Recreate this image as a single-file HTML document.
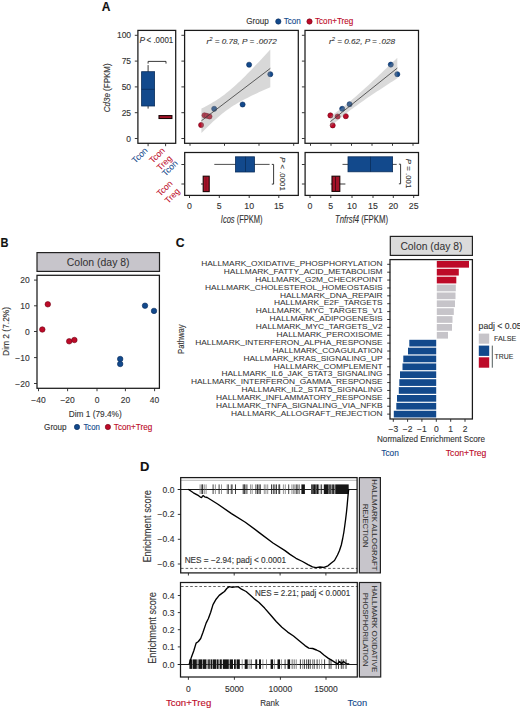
<!DOCTYPE html>
<html><head><meta charset="utf-8"><style>
html,body{margin:0;padding:0;background:#fff;}
svg{display:block;}
text{font-family:"Liberation Sans", sans-serif;stroke:currentColor;stroke-width:0.12px;}
</style></head><body>
<svg width="520" height="710" viewBox="0 0 520 710">
<rect x="0" y="0" width="520" height="710" fill="#fff"/>
<text x="101.80" y="10.70" font-size="12" fill="#111" color="#111" font-weight="bold">A</text>
<text x="246.30" y="24.30" font-size="8.3" fill="#333" color="#333" textLength="22.50" lengthAdjust="spacingAndGlyphs">Group</text>
<circle cx="278.30" cy="21.50" r="2.65" fill="#12498c" stroke="#0a2c5c" stroke-width="0.6"/>
<text x="283.80" y="24.30" font-size="8.3" fill="#12498c" color="#12498c" textLength="17.00" lengthAdjust="spacingAndGlyphs">Tcon</text>
<circle cx="309.50" cy="21.50" r="2.65" fill="#bd0a28" stroke="#700416" stroke-width="0.6"/>
<text x="315.00" y="24.30" font-size="8.3" fill="#bd0a28" color="#bd0a28" textLength="38.30" lengthAdjust="spacingAndGlyphs">Tcon+Treg</text>
<text x="110.40" y="87.80" font-size="8.9" fill="#333" color="#333" text-anchor="middle" transform="rotate(-90 110.40 87.80)" textLength="49" lengthAdjust="spacingAndGlyphs"><tspan font-style="italic">Cd3e</tspan> (FPKM)</text>
<text x="131.10" y="141.50" font-size="8.5" fill="#333" color="#333" text-anchor="end">0</text>
<line x1="134.80" y1="138.50" x2="137.60" y2="138.50" stroke="#222" stroke-width="0.9"/>
<line x1="181.40" y1="138.50" x2="184.30" y2="138.50" stroke="#222" stroke-width="0.9"/>
<line x1="301.90" y1="138.50" x2="304.70" y2="138.50" stroke="#222" stroke-width="0.9"/>
<text x="131.10" y="115.70" font-size="8.5" fill="#333" color="#333" text-anchor="end">25</text>
<line x1="134.80" y1="112.70" x2="137.60" y2="112.70" stroke="#222" stroke-width="0.9"/>
<line x1="181.40" y1="112.70" x2="184.30" y2="112.70" stroke="#222" stroke-width="0.9"/>
<line x1="301.90" y1="112.70" x2="304.70" y2="112.70" stroke="#222" stroke-width="0.9"/>
<text x="131.10" y="89.90" font-size="8.5" fill="#333" color="#333" text-anchor="end">50</text>
<line x1="134.80" y1="86.90" x2="137.60" y2="86.90" stroke="#222" stroke-width="0.9"/>
<line x1="181.40" y1="86.90" x2="184.30" y2="86.90" stroke="#222" stroke-width="0.9"/>
<line x1="301.90" y1="86.90" x2="304.70" y2="86.90" stroke="#222" stroke-width="0.9"/>
<text x="131.10" y="64.10" font-size="8.5" fill="#333" color="#333" text-anchor="end">75</text>
<line x1="134.80" y1="61.10" x2="137.60" y2="61.10" stroke="#222" stroke-width="0.9"/>
<line x1="181.40" y1="61.10" x2="184.30" y2="61.10" stroke="#222" stroke-width="0.9"/>
<line x1="301.90" y1="61.10" x2="304.70" y2="61.10" stroke="#222" stroke-width="0.9"/>
<text x="131.10" y="38.30" font-size="8.5" fill="#333" color="#333" text-anchor="end">100</text>
<line x1="134.80" y1="35.30" x2="137.60" y2="35.30" stroke="#222" stroke-width="0.9"/>
<line x1="181.40" y1="35.30" x2="184.30" y2="35.30" stroke="#222" stroke-width="0.9"/>
<line x1="301.90" y1="35.30" x2="304.70" y2="35.30" stroke="#222" stroke-width="0.9"/>
<rect x="137.90" y="30.40" width="37.80" height="112.90" fill="none" stroke="#1a1a1a" stroke-width="1.25"/>
<text x="139.60" y="42.60" font-size="8.4" fill="#333" color="#333" font-style="italic">P</text>
<text x="146.60" y="42.60" font-size="8.4" fill="#333" color="#333" textLength="26.60" lengthAdjust="spacingAndGlyphs">&lt; .0001</text>
<polyline points="148.10,63.60 148.10,61.40 166.00,61.40 166.00,63.60" fill="none" stroke="#222" stroke-width="0.9" stroke-linejoin="round"/>
<line x1="148.10" y1="65.10" x2="148.10" y2="108.60" stroke="#222" stroke-width="0.9"/>
<rect x="141.60" y="71.70" width="13.00" height="34.30" fill="#12498c" stroke="#0a2d5a" stroke-width="0.8"/>
<line x1="141.60" y1="89.30" x2="154.60" y2="89.30" stroke="#0a2d5a" stroke-width="0.8"/>
<rect x="159.00" y="115.60" width="12.90" height="2.90" fill="#a8132a" stroke="#1a0505" stroke-width="1.1"/>
<line x1="148.10" y1="143.30" x2="148.10" y2="146.20" stroke="#222" stroke-width="0.9"/>
<line x1="165.60" y1="143.30" x2="165.60" y2="146.20" stroke="#222" stroke-width="0.9"/>
<rect x="184.60" y="30.40" width="113.70" height="112.90" fill="none" stroke="#1a1a1a" stroke-width="1.25"/>
<line x1="190.00" y1="143.30" x2="190.00" y2="145.80" stroke="#222" stroke-width="0.9"/>
<line x1="224.50" y1="143.30" x2="224.50" y2="145.80" stroke="#222" stroke-width="0.9"/>
<line x1="259.00" y1="143.30" x2="259.00" y2="145.80" stroke="#222" stroke-width="0.9"/>
<line x1="293.70" y1="143.30" x2="293.70" y2="145.80" stroke="#222" stroke-width="0.9"/>
<circle cx="249.10" cy="64.70" r="2.55" fill="#12498c" stroke="#0a2c5c" stroke-width="0.6"/>
<circle cx="270.30" cy="74.20" r="2.55" fill="#12498c" stroke="#0a2c5c" stroke-width="0.6"/>
<circle cx="242.60" cy="104.50" r="2.55" fill="#12498c" stroke="#0a2c5c" stroke-width="0.6"/>
<circle cx="214.20" cy="108.80" r="2.55" fill="#12498c" stroke="#0a2c5c" stroke-width="0.6"/>
<circle cx="204.50" cy="115.30" r="2.55" fill="#bd0a28" stroke="#700416" stroke-width="0.6"/>
<circle cx="206.80" cy="115.80" r="2.55" fill="#bd0a28" stroke="#700416" stroke-width="0.6"/>
<circle cx="209.50" cy="116.50" r="2.55" fill="#bd0a28" stroke="#700416" stroke-width="0.6"/>
<circle cx="201.10" cy="125.00" r="2.55" fill="#bd0a28" stroke="#700416" stroke-width="0.6"/>
<polygon points="201.40,108.57 203.70,107.40 205.99,106.20 208.29,104.95 210.59,103.67 212.88,102.33 215.18,100.93 217.48,99.47 219.77,97.93 222.07,96.32 224.37,94.63 226.66,92.86 228.96,91.01 231.26,89.08 233.55,87.07 235.85,85.00 238.15,82.87 240.44,80.68 242.74,78.45 245.04,76.17 247.33,73.86 249.63,71.51 251.93,69.14 254.22,66.75 256.52,64.34 258.82,61.91 261.11,59.46 263.41,57.00 265.71,54.53 268.00,52.05 270.30,49.56 270.30,87.25 268.00,88.25 265.71,89.26 263.41,90.28 261.11,91.32 258.82,92.36 256.52,93.43 254.22,94.50 251.93,95.60 249.63,96.73 247.33,97.88 245.04,99.06 242.74,100.28 240.44,101.54 238.15,102.84 235.85,104.20 233.55,105.62 231.26,107.11 228.96,108.67 226.66,110.31 224.37,112.04 222.07,113.84 219.77,115.72 217.48,117.68 215.18,119.71 212.88,121.81 210.59,123.96 208.29,126.17 205.99,128.42 203.70,130.71 201.40,133.03" fill="#999999" stroke="none" stroke-width="1" fill-opacity="0.38"/>
<line x1="201.40" y1="120.80" x2="270.30" y2="68.40" stroke="#3a3a3a" stroke-width="0.8"/>
<text x="241.7" y="44.0" font-size="7.7" fill="#333" color="#333" text-anchor="middle" font-style="italic" textLength="70.4" lengthAdjust="spacingAndGlyphs">r<tspan font-size="5.5" dy="-3">2</tspan><tspan dy="3"> = 0.78, P = .0072</tspan></text>
<rect x="305.00" y="30.40" width="113.50" height="112.90" fill="none" stroke="#1a1a1a" stroke-width="1.25"/>
<line x1="310.50" y1="143.30" x2="310.50" y2="145.80" stroke="#222" stroke-width="0.9"/>
<line x1="331.00" y1="143.30" x2="331.00" y2="145.80" stroke="#222" stroke-width="0.9"/>
<line x1="351.50" y1="143.30" x2="351.50" y2="145.80" stroke="#222" stroke-width="0.9"/>
<line x1="372.00" y1="143.30" x2="372.00" y2="145.80" stroke="#222" stroke-width="0.9"/>
<line x1="392.50" y1="143.30" x2="392.50" y2="145.80" stroke="#222" stroke-width="0.9"/>
<line x1="413.00" y1="143.30" x2="413.00" y2="145.80" stroke="#222" stroke-width="0.9"/>
<circle cx="390.80" cy="64.60" r="2.55" fill="#12498c" stroke="#0a2c5c" stroke-width="0.6"/>
<circle cx="397.30" cy="74.20" r="2.55" fill="#12498c" stroke="#0a2c5c" stroke-width="0.6"/>
<circle cx="349.60" cy="104.20" r="2.55" fill="#12498c" stroke="#0a2c5c" stroke-width="0.6"/>
<circle cx="342.20" cy="108.80" r="2.55" fill="#12498c" stroke="#0a2c5c" stroke-width="0.6"/>
<circle cx="330.40" cy="115.40" r="2.55" fill="#bd0a28" stroke="#700416" stroke-width="0.6"/>
<circle cx="337.60" cy="116.50" r="2.55" fill="#bd0a28" stroke="#700416" stroke-width="0.6"/>
<circle cx="345.80" cy="116.20" r="2.55" fill="#bd0a28" stroke="#700416" stroke-width="0.6"/>
<circle cx="332.70" cy="125.40" r="2.55" fill="#bd0a28" stroke="#700416" stroke-width="0.6"/>
<polygon points="330.40,116.44 332.63,114.84 334.86,113.22 337.09,111.56 339.32,109.88 341.55,108.17 343.78,106.42 346.01,104.64 348.24,102.82 350.47,100.97 352.70,99.09 354.93,97.17 357.16,95.23 359.39,93.27 361.62,91.28 363.85,89.27 366.08,87.24 368.31,85.20 370.54,83.15 372.77,81.08 375.00,79.00 377.23,76.91 379.46,74.81 381.69,72.71 383.92,70.60 386.15,68.49 388.38,66.37 390.61,64.24 392.84,62.11 395.07,59.98 397.30,57.84 397.30,78.32 395.07,79.75 392.84,81.18 390.61,82.62 388.38,84.07 386.15,85.51 383.92,86.97 381.69,88.42 379.46,89.89 377.23,91.36 375.00,92.84 372.77,94.33 370.54,95.83 368.31,97.34 366.08,98.87 363.85,100.41 361.62,101.97 359.39,103.55 357.16,105.15 354.93,106.78 352.70,108.43 350.47,110.12 348.24,111.84 346.01,113.59 343.78,115.37 341.55,117.19 339.32,119.05 337.09,120.93 334.86,122.85 332.63,124.79 330.40,126.76" fill="#999999" stroke="none" stroke-width="1" fill-opacity="0.36"/>
<line x1="330.40" y1="121.60" x2="397.30" y2="68.08" stroke="#3a3a3a" stroke-width="0.8"/>
<text x="362.0" y="44.0" font-size="7.7" fill="#333" color="#333" text-anchor="middle" font-style="italic" textLength="66" lengthAdjust="spacingAndGlyphs">r<tspan font-size="5.5" dy="-3">2</tspan><tspan dy="3"> = 0.62, P = .028</tspan></text>
<text x="148.20" y="151.00" font-size="8.6" fill="#12498c" color="#12498c" text-anchor="end" transform="rotate(-45 148.20 151.00)" style="stroke-width:0.03px">Tcon</text>
<text x="165.50" y="151.00" font-size="8.6" fill="#bd0a28" color="#bd0a28" text-anchor="end" transform="rotate(-45 165.50 151.00)" style="stroke-width:0.03px">Tcon</text>
<text x="172.60" y="158.80" font-size="8.6" fill="#bd0a28" color="#bd0a28" text-anchor="end" transform="rotate(-45 172.60 158.80)" style="stroke-width:0.03px">Treg</text>
<rect x="184.70" y="152.50" width="113.60" height="42.90" fill="none" stroke="#1a1a1a" stroke-width="1.25"/>
<rect x="305.10" y="152.50" width="113.40" height="42.90" fill="none" stroke="#1a1a1a" stroke-width="1.25"/>
<line x1="181.40" y1="164.50" x2="184.30" y2="164.50" stroke="#222" stroke-width="0.9"/>
<line x1="301.90" y1="164.50" x2="304.80" y2="164.50" stroke="#222" stroke-width="0.9"/>
<line x1="181.40" y1="184.00" x2="184.30" y2="184.00" stroke="#222" stroke-width="0.9"/>
<line x1="301.90" y1="184.00" x2="304.80" y2="184.00" stroke="#222" stroke-width="0.9"/>
<text x="178.30" y="163.80" font-size="8.6" fill="#12498c" color="#12498c" text-anchor="end" transform="rotate(-45 178.30 163.80)" style="stroke-width:0.03px">Tcon</text>
<text x="173.10" y="184.00" font-size="8.6" fill="#bd0a28" color="#bd0a28" text-anchor="end" transform="rotate(-45 173.10 184.00)" style="stroke-width:0.03px">Tcon</text>
<text x="180.50" y="191.70" font-size="8.6" fill="#bd0a28" color="#bd0a28" text-anchor="end" transform="rotate(-45 180.50 191.70)" style="stroke-width:0.03px">Treg</text>
<line x1="214.30" y1="164.40" x2="269.60" y2="164.40" stroke="#222" stroke-width="0.8"/>
<rect x="235.50" y="156.80" width="19.00" height="15.20" fill="#12498c" stroke="#0a2d5a" stroke-width="0.8"/>
<line x1="245.50" y1="156.80" x2="245.50" y2="172.00" stroke="#0a2d5a" stroke-width="0.8"/>
<line x1="201.00" y1="184.00" x2="203.20" y2="184.00" stroke="#222" stroke-width="0.9"/>
<rect x="203.20" y="176.20" width="6.00" height="15.40" fill="#a8132a" stroke="#1a0505" stroke-width="1.1"/>
<line x1="206.00" y1="176.20" x2="206.00" y2="191.60" stroke="#5a0a14" stroke-width="0.5"/>
<polyline points="271.80,164.40 273.60,164.40 273.60,184.10 271.80,184.10" fill="none" stroke="#222" stroke-width="0.9" stroke-linejoin="round"/>
<text x="279.6" y="157.0" font-size="8.0" fill="#333" color="#333" transform="rotate(90 279.6 157.0)" textLength="33.8" lengthAdjust="spacingAndGlyphs"><tspan font-style="italic">P</tspan> &lt; .0001</text>
<line x1="189.50" y1="195.40" x2="189.50" y2="198.00" stroke="#222" stroke-width="0.9"/>
<text x="189.50" y="208.90" font-size="8.8" fill="#333" color="#333" text-anchor="middle">0</text>
<line x1="219.30" y1="195.40" x2="219.30" y2="198.00" stroke="#222" stroke-width="0.9"/>
<text x="219.30" y="208.90" font-size="8.8" fill="#333" color="#333" text-anchor="middle">5</text>
<line x1="249.20" y1="195.40" x2="249.20" y2="198.00" stroke="#222" stroke-width="0.9"/>
<text x="249.20" y="208.90" font-size="8.8" fill="#333" color="#333" text-anchor="middle">10</text>
<line x1="278.80" y1="195.40" x2="278.80" y2="198.00" stroke="#222" stroke-width="0.9"/>
<text x="278.80" y="208.90" font-size="8.8" fill="#333" color="#333" text-anchor="middle">15</text>
<text x="220.8" y="223.0" font-size="10" fill="#333" color="#333" textLength="41.7" lengthAdjust="spacingAndGlyphs"><tspan font-style="italic">Icos</tspan> (FPKM)</text>
<line x1="342.50" y1="164.40" x2="396.70" y2="164.40" stroke="#222" stroke-width="0.8"/>
<rect x="348.00" y="156.80" width="44.60" height="15.00" fill="#12498c" stroke="#0a2d5a" stroke-width="0.8"/>
<line x1="370.50" y1="156.80" x2="370.50" y2="171.80" stroke="#0a2d5a" stroke-width="0.8"/>
<line x1="330.60" y1="184.00" x2="345.40" y2="184.00" stroke="#222" stroke-width="0.9"/>
<rect x="332.00" y="176.20" width="7.80" height="15.20" fill="#a31228" stroke="#1a0505" stroke-width="1.1"/>
<line x1="335.50" y1="176.20" x2="335.50" y2="191.40" stroke="#3a0810" stroke-width="0.8"/>
<polyline points="398.90,164.20 400.60,164.20 400.60,183.80 398.90,183.80" fill="none" stroke="#222" stroke-width="0.9" stroke-linejoin="round"/>
<text x="406.3" y="158.8" font-size="8.0" fill="#333" color="#333" transform="rotate(90 406.3 158.8)" textLength="29.6" lengthAdjust="spacingAndGlyphs"><tspan font-style="italic">P</tspan> = .001</text>
<line x1="310.00" y1="195.40" x2="310.00" y2="198.00" stroke="#222" stroke-width="0.9"/>
<text x="310.00" y="208.90" font-size="8.8" fill="#333" color="#333" text-anchor="middle">0</text>
<line x1="330.80" y1="195.40" x2="330.80" y2="198.00" stroke="#222" stroke-width="0.9"/>
<text x="330.80" y="208.90" font-size="8.8" fill="#333" color="#333" text-anchor="middle">5</text>
<line x1="352.00" y1="195.40" x2="352.00" y2="198.00" stroke="#222" stroke-width="0.9"/>
<text x="352.00" y="208.90" font-size="8.8" fill="#333" color="#333" text-anchor="middle">10</text>
<line x1="373.00" y1="195.40" x2="373.00" y2="198.00" stroke="#222" stroke-width="0.9"/>
<text x="373.00" y="208.90" font-size="8.8" fill="#333" color="#333" text-anchor="middle">15</text>
<line x1="393.30" y1="195.40" x2="393.30" y2="198.00" stroke="#222" stroke-width="0.9"/>
<text x="393.30" y="208.90" font-size="8.8" fill="#333" color="#333" text-anchor="middle">20</text>
<line x1="413.70" y1="195.40" x2="413.70" y2="198.00" stroke="#222" stroke-width="0.9"/>
<text x="413.70" y="208.90" font-size="8.8" fill="#333" color="#333" text-anchor="middle">25</text>
<text x="335.0" y="223.0" font-size="10" fill="#333" color="#333" textLength="53" lengthAdjust="spacingAndGlyphs"><tspan font-style="italic">Tnfrsf4</tspan> (FPKM)</text>
<text x="0.60" y="246.90" font-size="12.6" fill="#111" color="#111" font-weight="bold" textLength="8.00" lengthAdjust="spacingAndGlyphs">B</text>
<rect x="37.00" y="252.60" width="122.50" height="18.80" fill="#c7c5cb" stroke="#222" stroke-width="1.2"/>
<text x="98.20" y="266.00" font-size="10" fill="#333" color="#333" text-anchor="middle" textLength="62.80" lengthAdjust="spacingAndGlyphs" style="stroke-width:0.05px">Colon (day 8)</text>
<rect x="37.00" y="275.30" width="122.40" height="113.00" fill="none" stroke="#1a1a1a" stroke-width="1.25"/>
<line x1="34.00" y1="280.10" x2="37.00" y2="280.10" stroke="#222" stroke-width="0.9"/>
<text x="29.70" y="283.10" font-size="8.5" fill="#333" color="#333" text-anchor="end">20</text>
<line x1="34.00" y1="305.80" x2="37.00" y2="305.80" stroke="#222" stroke-width="0.9"/>
<text x="29.70" y="308.80" font-size="8.5" fill="#333" color="#333" text-anchor="end">10</text>
<line x1="34.00" y1="331.50" x2="37.00" y2="331.50" stroke="#222" stroke-width="0.9"/>
<text x="29.70" y="334.50" font-size="8.5" fill="#333" color="#333" text-anchor="end">0</text>
<line x1="34.00" y1="357.60" x2="37.00" y2="357.60" stroke="#222" stroke-width="0.9"/>
<text x="29.70" y="360.60" font-size="8.5" fill="#333" color="#333" text-anchor="end">−10</text>
<line x1="34.00" y1="383.50" x2="37.00" y2="383.50" stroke="#222" stroke-width="0.9"/>
<text x="29.70" y="386.50" font-size="8.5" fill="#333" color="#333" text-anchor="end">−20</text>
<line x1="38.50" y1="388.40" x2="38.50" y2="391.20" stroke="#222" stroke-width="0.9"/>
<text x="38.50" y="402.80" font-size="8.5" fill="#333" color="#333" text-anchor="middle">−40</text>
<line x1="67.60" y1="388.40" x2="67.60" y2="391.20" stroke="#222" stroke-width="0.9"/>
<text x="67.60" y="402.80" font-size="8.5" fill="#333" color="#333" text-anchor="middle">−20</text>
<line x1="97.00" y1="388.40" x2="97.00" y2="391.20" stroke="#222" stroke-width="0.9"/>
<text x="97.00" y="402.80" font-size="8.5" fill="#333" color="#333" text-anchor="middle">0</text>
<line x1="125.40" y1="388.40" x2="125.40" y2="391.20" stroke="#222" stroke-width="0.9"/>
<text x="125.40" y="402.80" font-size="8.5" fill="#333" color="#333" text-anchor="middle">20</text>
<line x1="154.60" y1="388.40" x2="154.60" y2="391.20" stroke="#222" stroke-width="0.9"/>
<text x="154.60" y="402.80" font-size="8.5" fill="#333" color="#333" text-anchor="middle">40</text>
<circle cx="47.80" cy="304.30" r="2.75" fill="#bd0a28" stroke="#700416" stroke-width="0.6"/>
<circle cx="42.30" cy="329.50" r="2.75" fill="#bd0a28" stroke="#700416" stroke-width="0.6"/>
<circle cx="69.20" cy="341.30" r="2.75" fill="#bd0a28" stroke="#700416" stroke-width="0.6"/>
<circle cx="74.40" cy="340.00" r="2.75" fill="#bd0a28" stroke="#700416" stroke-width="0.6"/>
<circle cx="145.00" cy="305.70" r="2.75" fill="#12498c" stroke="#0a2c5c" stroke-width="0.6"/>
<circle cx="154.00" cy="310.90" r="2.75" fill="#12498c" stroke="#0a2c5c" stroke-width="0.6"/>
<circle cx="120.20" cy="359.00" r="2.75" fill="#12498c" stroke="#0a2c5c" stroke-width="0.6"/>
<circle cx="120.20" cy="364.00" r="2.75" fill="#12498c" stroke="#0a2c5c" stroke-width="0.6"/>
<text x="95.20" y="417.20" font-size="9.4" fill="#333" color="#333" text-anchor="middle" textLength="53.00" lengthAdjust="spacingAndGlyphs">Dim 1 (79.4%)</text>
<text x="8.80" y="331.40" font-size="8.8" fill="#333" color="#333" text-anchor="middle" textLength="49.00" lengthAdjust="spacingAndGlyphs" transform="rotate(-90 8.80 331.40)">Dim 2 (7.2%)</text>
<text x="44.10" y="430.00" font-size="8.3" fill="#333" color="#333" textLength="22.50" lengthAdjust="spacingAndGlyphs">Group</text>
<circle cx="77.00" cy="427.00" r="2.65" fill="#12498c" stroke="#0a2c5c" stroke-width="0.6"/>
<text x="83.40" y="430.00" font-size="8.3" fill="#12498c" color="#12498c" textLength="16.60" lengthAdjust="spacingAndGlyphs">Tcon</text>
<circle cx="107.90" cy="427.00" r="2.65" fill="#bd0a28" stroke="#700416" stroke-width="0.6"/>
<text x="113.80" y="430.00" font-size="8.3" fill="#bd0a28" color="#bd0a28" textLength="38.50" lengthAdjust="spacingAndGlyphs">Tcon+Treg</text>
<text x="175.80" y="247.30" font-size="13.0" fill="#111" color="#111" font-weight="bold" textLength="8.80" lengthAdjust="spacingAndGlyphs">C</text>
<rect x="390.30" y="236.40" width="82.10" height="19.00" fill="#dbdbdb" stroke="#222" stroke-width="1.2"/>
<text x="431.40" y="250.10" font-size="10" fill="#333" color="#333" text-anchor="middle" textLength="62.00" lengthAdjust="spacingAndGlyphs" style="stroke-width:0.05px">Colon (day 8)</text>
<rect x="436.80" y="260.95" width="32.20" height="6.7" fill="#bd0a28"/>
<text x="382.6" y="266.05" font-size="7.75" fill="#333" color="#333" style="stroke-width:0.04px" text-anchor="end" textLength="181.40" lengthAdjust="spacingAndGlyphs">HALLMARK<tspan dy="-0.8">_</tspan><tspan dy="0.8">OXIDATIVE</tspan><tspan dy="-0.8">_</tspan><tspan dy="0.8">PHOSPHORYLATION</tspan></text>
<line x1="387.20" y1="264.30" x2="390.20" y2="264.30" stroke="#222" stroke-width="0.9"/>
<rect x="436.80" y="268.83" width="22.00" height="6.7" fill="#bd0a28"/>
<text x="382.6" y="273.94" font-size="7.75" fill="#333" color="#333" style="stroke-width:0.04px" text-anchor="end" textLength="158.76" lengthAdjust="spacingAndGlyphs">HALLMARK<tspan dy="-0.8">_</tspan><tspan dy="0.8">FATTY</tspan><tspan dy="-0.8">_</tspan><tspan dy="0.8">ACID</tspan><tspan dy="-0.8">_</tspan><tspan dy="0.8">METABOLISM</tspan></text>
<line x1="387.20" y1="272.19" x2="390.20" y2="272.19" stroke="#222" stroke-width="0.9"/>
<rect x="436.80" y="276.72" width="19.50" height="6.7" fill="#bd0a28"/>
<text x="382.6" y="281.82" font-size="7.75" fill="#333" color="#333" style="stroke-width:0.04px" text-anchor="end" textLength="127.44" lengthAdjust="spacingAndGlyphs">HALLMARK<tspan dy="-0.8">_</tspan><tspan dy="0.8">G2M</tspan><tspan dy="-0.8">_</tspan><tspan dy="0.8">CHECKPOINT</tspan></text>
<line x1="387.20" y1="280.07" x2="390.20" y2="280.07" stroke="#222" stroke-width="0.9"/>
<rect x="436.80" y="284.61" width="19.00" height="6.7" fill="#c6c4c9"/>
<text x="382.6" y="289.71" font-size="7.75" fill="#333" color="#333" style="stroke-width:0.04px" text-anchor="end" textLength="177.52" lengthAdjust="spacingAndGlyphs">HALLMARK<tspan dy="-0.8">_</tspan><tspan dy="0.8">CHOLESTEROL</tspan><tspan dy="-0.8">_</tspan><tspan dy="0.8">HOMEOSTASIS</tspan></text>
<line x1="387.20" y1="287.96" x2="390.20" y2="287.96" stroke="#222" stroke-width="0.9"/>
<rect x="436.80" y="292.49" width="18.70" height="6.7" fill="#c6c4c9"/>
<text x="382.6" y="297.59" font-size="7.75" fill="#333" color="#333" style="stroke-width:0.04px" text-anchor="end" textLength="102.64" lengthAdjust="spacingAndGlyphs">HALLMARK<tspan dy="-0.8">_</tspan><tspan dy="0.8">DNA</tspan><tspan dy="-0.8">_</tspan><tspan dy="0.8">REPAIR</tspan></text>
<line x1="387.20" y1="295.84" x2="390.20" y2="295.84" stroke="#222" stroke-width="0.9"/>
<rect x="436.80" y="300.38" width="18.20" height="6.7" fill="#c6c4c9"/>
<text x="382.6" y="305.48" font-size="7.75" fill="#333" color="#333" style="stroke-width:0.04px" text-anchor="end" textLength="108.69" lengthAdjust="spacingAndGlyphs">HALLMARK<tspan dy="-0.8">_</tspan><tspan dy="0.8">E2F</tspan><tspan dy="-0.8">_</tspan><tspan dy="0.8">TARGETS</tspan></text>
<line x1="387.20" y1="303.73" x2="390.20" y2="303.73" stroke="#222" stroke-width="0.9"/>
<rect x="436.80" y="308.26" width="17.00" height="6.7" fill="#c6c4c9"/>
<text x="382.6" y="313.36" font-size="7.75" fill="#333" color="#333" style="stroke-width:0.04px" text-anchor="end" textLength="126.83" lengthAdjust="spacingAndGlyphs">HALLMARK<tspan dy="-0.8">_</tspan><tspan dy="0.8">MYC</tspan><tspan dy="-0.8">_</tspan><tspan dy="0.8">TARGETS</tspan><tspan dy="-0.8">_</tspan><tspan dy="0.8">V1</tspan></text>
<line x1="387.20" y1="311.61" x2="390.20" y2="311.61" stroke="#222" stroke-width="0.9"/>
<rect x="436.80" y="316.14" width="15.70" height="6.7" fill="#c6c4c9"/>
<text x="382.6" y="321.25" font-size="7.75" fill="#333" color="#333" style="stroke-width:0.04px" text-anchor="end" textLength="113.03" lengthAdjust="spacingAndGlyphs">HALLMARK<tspan dy="-0.8">_</tspan><tspan dy="0.8">ADIPOGENESIS</tspan></text>
<line x1="387.20" y1="319.50" x2="390.20" y2="319.50" stroke="#222" stroke-width="0.9"/>
<rect x="436.80" y="324.03" width="15.20" height="6.7" fill="#c6c4c9"/>
<text x="382.6" y="329.13" font-size="7.75" fill="#333" color="#333" style="stroke-width:0.04px" text-anchor="end" textLength="126.83" lengthAdjust="spacingAndGlyphs">HALLMARK<tspan dy="-0.8">_</tspan><tspan dy="0.8">MYC</tspan><tspan dy="-0.8">_</tspan><tspan dy="0.8">TARGETS</tspan><tspan dy="-0.8">_</tspan><tspan dy="0.8">V2</tspan></text>
<line x1="387.20" y1="327.38" x2="390.20" y2="327.38" stroke="#222" stroke-width="0.9"/>
<rect x="436.80" y="331.91" width="11.20" height="6.7" fill="#c6c4c9"/>
<text x="382.6" y="337.01" font-size="7.75" fill="#333" color="#333" style="stroke-width:0.04px" text-anchor="end" textLength="106.05" lengthAdjust="spacingAndGlyphs">HALLMARK<tspan dy="-0.8">_</tspan><tspan dy="0.8">PEROXISOME</tspan></text>
<line x1="387.20" y1="335.26" x2="390.20" y2="335.26" stroke="#222" stroke-width="0.9"/>
<rect x="409.30" y="339.80" width="26.90" height="6.7" fill="#12498c"/>
<text x="382.6" y="344.90" font-size="7.75" fill="#333" color="#333" style="stroke-width:0.04px" text-anchor="end" textLength="187.45" lengthAdjust="spacingAndGlyphs">HALLMARK<tspan dy="-0.8">_</tspan><tspan dy="0.8">INTERFERON</tspan><tspan dy="-0.8">_</tspan><tspan dy="0.8">ALPHA</tspan><tspan dy="-0.8">_</tspan><tspan dy="0.8">RESPONSE</tspan></text>
<line x1="387.20" y1="343.15" x2="390.20" y2="343.15" stroke="#222" stroke-width="0.9"/>
<rect x="408.00" y="347.69" width="28.20" height="6.7" fill="#12498c"/>
<text x="382.6" y="352.79" font-size="7.75" fill="#333" color="#333" style="stroke-width:0.04px" text-anchor="end" textLength="110.08" lengthAdjust="spacingAndGlyphs">HALLMARK<tspan dy="-0.8">_</tspan><tspan dy="0.8">COAGULATION</tspan></text>
<line x1="387.20" y1="351.04" x2="390.20" y2="351.04" stroke="#222" stroke-width="0.9"/>
<rect x="403.30" y="355.57" width="32.90" height="6.7" fill="#12498c"/>
<text x="382.6" y="360.67" font-size="7.75" fill="#333" color="#333" style="stroke-width:0.04px" text-anchor="end" textLength="139.09" lengthAdjust="spacingAndGlyphs">HALLMARK<tspan dy="-0.8">_</tspan><tspan dy="0.8">KRAS</tspan><tspan dy="-0.8">_</tspan><tspan dy="0.8">SIGNALING</tspan><tspan dy="-0.8">_</tspan><tspan dy="0.8">UP</tspan></text>
<line x1="387.20" y1="358.92" x2="390.20" y2="358.92" stroke="#222" stroke-width="0.9"/>
<rect x="402.50" y="363.45" width="33.70" height="6.7" fill="#12498c"/>
<text x="382.6" y="368.56" font-size="7.75" fill="#333" color="#333" style="stroke-width:0.04px" text-anchor="end" textLength="108.83" lengthAdjust="spacingAndGlyphs">HALLMARK<tspan dy="-0.8">_</tspan><tspan dy="0.8">COMPLEMENT</tspan></text>
<line x1="387.20" y1="366.81" x2="390.20" y2="366.81" stroke="#222" stroke-width="0.9"/>
<rect x="400.00" y="371.34" width="36.20" height="6.7" fill="#12498c"/>
<text x="382.6" y="376.44" font-size="7.75" fill="#333" color="#333" style="stroke-width:0.04px" text-anchor="end" textLength="161.11" lengthAdjust="spacingAndGlyphs">HALLMARK<tspan dy="-0.8">_</tspan><tspan dy="0.8">IL6</tspan><tspan dy="-0.8">_</tspan><tspan dy="0.8">JAK</tspan><tspan dy="-0.8">_</tspan><tspan dy="0.8">STAT3</tspan><tspan dy="-0.8">_</tspan><tspan dy="0.8">SIGNALING</tspan></text>
<line x1="387.20" y1="374.69" x2="390.20" y2="374.69" stroke="#222" stroke-width="0.9"/>
<rect x="399.30" y="379.22" width="36.90" height="6.7" fill="#12498c"/>
<text x="382.6" y="384.32" font-size="7.75" fill="#333" color="#333" style="stroke-width:0.04px" text-anchor="end" textLength="191.62" lengthAdjust="spacingAndGlyphs">HALLMARK<tspan dy="-0.8">_</tspan><tspan dy="0.8">INTERFERON</tspan><tspan dy="-0.8">_</tspan><tspan dy="0.8">GAMMA</tspan><tspan dy="-0.8">_</tspan><tspan dy="0.8">RESPONSE</tspan></text>
<line x1="387.20" y1="382.57" x2="390.20" y2="382.57" stroke="#222" stroke-width="0.9"/>
<rect x="398.80" y="387.11" width="37.40" height="6.7" fill="#12498c"/>
<text x="382.6" y="392.21" font-size="7.75" fill="#333" color="#333" style="stroke-width:0.04px" text-anchor="end" textLength="141.10" lengthAdjust="spacingAndGlyphs">HALLMARK<tspan dy="-0.8">_</tspan><tspan dy="0.8">IL2</tspan><tspan dy="-0.8">_</tspan><tspan dy="0.8">STAT5</tspan><tspan dy="-0.8">_</tspan><tspan dy="0.8">SIGNALING</tspan></text>
<line x1="387.20" y1="390.46" x2="390.20" y2="390.46" stroke="#222" stroke-width="0.9"/>
<rect x="397.00" y="395.00" width="39.20" height="6.7" fill="#12498c"/>
<text x="382.6" y="400.10" font-size="7.75" fill="#333" color="#333" style="stroke-width:0.04px" text-anchor="end" textLength="166.52" lengthAdjust="spacingAndGlyphs">HALLMARK<tspan dy="-0.8">_</tspan><tspan dy="0.8">INFLAMMATORY</tspan><tspan dy="-0.8">_</tspan><tspan dy="0.8">RESPONSE</tspan></text>
<line x1="387.20" y1="398.35" x2="390.20" y2="398.35" stroke="#222" stroke-width="0.9"/>
<rect x="396.30" y="402.88" width="39.90" height="6.7" fill="#12498c"/>
<text x="382.6" y="407.98" font-size="7.75" fill="#333" color="#333" style="stroke-width:0.04px" text-anchor="end" textLength="166.52" lengthAdjust="spacingAndGlyphs">HALLMARK<tspan dy="-0.8">_</tspan><tspan dy="0.8">TNFA</tspan><tspan dy="-0.8">_</tspan><tspan dy="0.8">SIGNALING</tspan><tspan dy="-0.8">_</tspan><tspan dy="0.8">VIA</tspan><tspan dy="-0.8">_</tspan><tspan dy="0.8">NFKB</tspan></text>
<line x1="387.20" y1="406.23" x2="390.20" y2="406.23" stroke="#222" stroke-width="0.9"/>
<rect x="393.80" y="410.76" width="42.40" height="6.7" fill="#12498c"/>
<text x="382.6" y="415.87" font-size="7.75" fill="#333" color="#333" style="stroke-width:0.04px" text-anchor="end" textLength="151.63" lengthAdjust="spacingAndGlyphs">HALLMARK<tspan dy="-0.8">_</tspan><tspan dy="0.8">ALLOGRAFT</tspan><tspan dy="-0.8">_</tspan><tspan dy="0.8">REJECTION</tspan></text>
<line x1="387.20" y1="414.12" x2="390.20" y2="414.12" stroke="#222" stroke-width="0.9"/>
<rect x="390.00" y="259.60" width="82.40" height="159.40" fill="none" stroke="#1a1a1a" stroke-width="1.25"/>
<line x1="393.30" y1="419.00" x2="393.30" y2="421.80" stroke="#222" stroke-width="0.9"/>
<text x="393.30" y="432.20" font-size="8.5" fill="#333" color="#333" text-anchor="middle">−3</text>
<line x1="407.60" y1="419.00" x2="407.60" y2="421.80" stroke="#222" stroke-width="0.9"/>
<text x="407.60" y="432.20" font-size="8.5" fill="#333" color="#333" text-anchor="middle">−2</text>
<line x1="421.90" y1="419.00" x2="421.90" y2="421.80" stroke="#222" stroke-width="0.9"/>
<text x="421.90" y="432.20" font-size="8.5" fill="#333" color="#333" text-anchor="middle">−1</text>
<line x1="436.30" y1="419.00" x2="436.30" y2="421.80" stroke="#222" stroke-width="0.9"/>
<text x="436.30" y="432.20" font-size="8.5" fill="#333" color="#333" text-anchor="middle">0</text>
<line x1="450.70" y1="419.00" x2="450.70" y2="421.80" stroke="#222" stroke-width="0.9"/>
<text x="450.70" y="432.20" font-size="8.5" fill="#333" color="#333" text-anchor="middle">1</text>
<line x1="465.00" y1="419.00" x2="465.00" y2="421.80" stroke="#222" stroke-width="0.9"/>
<text x="465.00" y="432.20" font-size="8.5" fill="#333" color="#333" text-anchor="middle">2</text>
<text x="431.00" y="442.00" font-size="9.8" fill="#333" color="#333" text-anchor="middle" textLength="108.00" lengthAdjust="spacingAndGlyphs">Normalized Enrichment Score</text>
<text x="381.30" y="455.60" font-size="8.6" fill="#12498c" color="#12498c" textLength="17.50" lengthAdjust="spacingAndGlyphs">Tcon</text>
<text x="445.80" y="455.60" font-size="8.6" fill="#bd0a28" color="#bd0a28" textLength="40.50" lengthAdjust="spacingAndGlyphs">Tcon+Treg</text>
<text x="184.10" y="339.10" font-size="9.2" fill="#333" color="#333" text-anchor="middle" textLength="29.70" lengthAdjust="spacingAndGlyphs" transform="rotate(-90 184.10 339.10)">Pathway</text>
<text x="478.60" y="328.50" font-size="8.4" fill="#333" color="#333" textLength="43.00" lengthAdjust="spacingAndGlyphs">padj &lt; 0.05</text>
<rect x="478.80" y="333.60" width="10.40" height="10.10" fill="#c6c4c9" stroke="none" stroke-width="1"/>
<rect x="478.80" y="345.60" width="10.40" height="10.30" fill="#12498c" stroke="none" stroke-width="1"/>
<rect x="478.80" y="357.30" width="10.40" height="10.40" fill="#bd0a28" stroke="none" stroke-width="1"/>
<line x1="492.30" y1="345.60" x2="492.30" y2="367.70" stroke="#3d4a4a" stroke-width="0.9"/>
<text x="494.00" y="341.30" font-size="8.0" fill="#333" color="#333" textLength="22.20" lengthAdjust="spacingAndGlyphs">FALSE</text>
<text x="494.50" y="359.30" font-size="8.0" fill="#333" color="#333" textLength="18.80" lengthAdjust="spacingAndGlyphs">TRUE</text>
<text x="140.00" y="470.90" font-size="12.6" fill="#111" color="#111" font-weight="bold" textLength="9.40" lengthAdjust="spacingAndGlyphs">D</text>
<rect x="359.40" y="477.60" width="21.00" height="95.30" fill="#c7c5cb" stroke="#222" stroke-width="1.2"/>
<line x1="181.00" y1="480.30" x2="357.20" y2="480.30" stroke="#999" stroke-width="0.7"/>
<line x1="181.00" y1="568.40" x2="357.20" y2="568.40" stroke="#222" stroke-width="0.7" stroke-dasharray="2.6,2.0"/>
<line x1="177.80" y1="489.50" x2="357.10" y2="489.50" stroke="#1a1a1a" stroke-width="1.0"/>
<line x1="177.80" y1="489.50" x2="181.00" y2="489.50" stroke="#222" stroke-width="0.9"/>
<text x="174.40" y="492.50" font-size="8.5" fill="#333" color="#333" text-anchor="end">0.0</text>
<line x1="177.80" y1="514.40" x2="181.00" y2="514.40" stroke="#222" stroke-width="0.9"/>
<text x="174.40" y="517.40" font-size="8.5" fill="#333" color="#333" text-anchor="end">−0.2</text>
<line x1="177.80" y1="539.30" x2="181.00" y2="539.30" stroke="#222" stroke-width="0.9"/>
<text x="174.40" y="542.30" font-size="8.5" fill="#333" color="#333" text-anchor="end">−0.4</text>
<line x1="177.80" y1="564.00" x2="181.00" y2="564.00" stroke="#222" stroke-width="0.9"/>
<text x="174.40" y="567.00" font-size="8.5" fill="#333" color="#333" text-anchor="end">−0.6</text>
<text x="150.90" y="526.30" font-size="11.0" fill="#333" color="#333" text-anchor="middle" textLength="72.60" lengthAdjust="spacingAndGlyphs" transform="rotate(-90 150.90 526.30)">Enrichment score</text>
<line x1="188.40" y1="572.90" x2="188.40" y2="575.50" stroke="#222" stroke-width="0.9"/>
<line x1="234.20" y1="572.90" x2="234.20" y2="575.50" stroke="#222" stroke-width="0.9"/>
<line x1="280.10" y1="572.90" x2="280.10" y2="575.50" stroke="#222" stroke-width="0.9"/>
<line x1="325.90" y1="572.90" x2="325.90" y2="575.50" stroke="#222" stroke-width="0.9"/>
<line x1="200.10" y1="484.40" x2="200.10" y2="494.00" stroke="#666" stroke-width="0.7"/>
<line x1="201.90" y1="484.40" x2="201.90" y2="494.00" stroke="#111" stroke-width="0.8"/>
<line x1="202.60" y1="484.40" x2="202.60" y2="494.00" stroke="#111" stroke-width="0.8"/>
<line x1="204.30" y1="484.40" x2="204.30" y2="494.00" stroke="#666" stroke-width="0.7"/>
<line x1="206.10" y1="484.40" x2="206.10" y2="494.00" stroke="#666" stroke-width="0.7"/>
<line x1="213.10" y1="484.40" x2="213.10" y2="494.00" stroke="#111" stroke-width="0.8"/>
<line x1="215.40" y1="484.40" x2="215.40" y2="494.00" stroke="#666" stroke-width="0.7"/>
<line x1="219.10" y1="484.40" x2="219.10" y2="494.00" stroke="#111" stroke-width="0.8"/>
<line x1="221.50" y1="484.40" x2="221.50" y2="494.00" stroke="#666" stroke-width="0.7"/>
<line x1="227.20" y1="484.40" x2="227.20" y2="494.00" stroke="#666" stroke-width="0.7"/>
<line x1="228.30" y1="484.40" x2="228.30" y2="494.00" stroke="#111" stroke-width="0.8"/>
<line x1="231.30" y1="484.40" x2="231.30" y2="494.00" stroke="#111" stroke-width="0.8"/>
<line x1="232.50" y1="484.40" x2="232.50" y2="494.00" stroke="#666" stroke-width="0.7"/>
<line x1="235.50" y1="484.40" x2="235.50" y2="494.00" stroke="#111" stroke-width="0.8"/>
<line x1="243.20" y1="484.40" x2="243.20" y2="494.00" stroke="#111" stroke-width="0.8"/>
<line x1="244.30" y1="484.40" x2="244.30" y2="494.00" stroke="#111" stroke-width="0.8"/>
<line x1="245.00" y1="484.40" x2="245.00" y2="494.00" stroke="#111" stroke-width="0.8"/>
<line x1="246.90" y1="484.40" x2="246.90" y2="494.00" stroke="#111" stroke-width="0.8"/>
<line x1="250.60" y1="484.40" x2="250.60" y2="494.00" stroke="#666" stroke-width="0.7"/>
<line x1="252.20" y1="484.40" x2="252.20" y2="494.00" stroke="#666" stroke-width="0.7"/>
<line x1="255.90" y1="484.40" x2="255.90" y2="494.00" stroke="#111" stroke-width="0.8"/>
<line x1="257.50" y1="484.40" x2="257.50" y2="494.00" stroke="#111" stroke-width="0.8"/>
<line x1="259.00" y1="484.40" x2="259.00" y2="494.00" stroke="#111" stroke-width="0.8"/>
<line x1="260.30" y1="484.40" x2="260.30" y2="494.00" stroke="#111" stroke-width="0.8"/>
<line x1="264.30" y1="484.40" x2="264.30" y2="494.00" stroke="#666" stroke-width="0.7"/>
<line x1="265.90" y1="484.40" x2="265.90" y2="494.00" stroke="#666" stroke-width="0.7"/>
<line x1="267.70" y1="484.40" x2="267.70" y2="494.00" stroke="#666" stroke-width="0.7"/>
<line x1="271.50" y1="484.40" x2="271.50" y2="494.00" stroke="#111" stroke-width="0.8"/>
<line x1="273.30" y1="484.40" x2="273.30" y2="494.00" stroke="#111" stroke-width="0.8"/>
<line x1="274.90" y1="484.40" x2="274.90" y2="494.00" stroke="#111" stroke-width="0.8"/>
<line x1="276.50" y1="484.40" x2="276.50" y2="494.00" stroke="#111" stroke-width="0.8"/>
<line x1="278.90" y1="484.40" x2="278.90" y2="494.00" stroke="#111" stroke-width="0.8"/>
<line x1="279.70" y1="484.40" x2="279.70" y2="494.00" stroke="#111" stroke-width="0.8"/>
<line x1="283.40" y1="484.40" x2="283.40" y2="494.00" stroke="#666" stroke-width="0.7"/>
<line x1="285.30" y1="484.40" x2="285.30" y2="494.00" stroke="#666" stroke-width="0.7"/>
<line x1="288.70" y1="484.40" x2="288.70" y2="494.00" stroke="#111" stroke-width="0.8"/>
<line x1="291.90" y1="484.40" x2="291.90" y2="494.00" stroke="#666" stroke-width="0.7"/>
<line x1="293.40" y1="484.40" x2="293.40" y2="494.00" stroke="#666" stroke-width="0.7"/>
<line x1="294.80" y1="484.40" x2="294.80" y2="494.00" stroke="#666" stroke-width="0.7"/>
<line x1="296.30" y1="484.40" x2="296.30" y2="494.00" stroke="#111" stroke-width="0.8"/>
<line x1="297.90" y1="484.40" x2="297.90" y2="494.00" stroke="#111" stroke-width="0.8"/>
<line x1="299.50" y1="484.40" x2="299.50" y2="494.00" stroke="#666" stroke-width="0.7"/>
<rect x="301.40" y="484.40" width="3.50" height="9.60" fill="#161616"/>
<rect x="311.00" y="484.40" width="2.20" height="9.60" fill="#4a4a4a"/>
<rect x="313.20" y="484.40" width="1.80" height="9.60" fill="#161616"/>
<rect x="315.00" y="484.40" width="1.60" height="9.60" fill="#4a4a4a"/>
<rect x="316.60" y="484.40" width="2.00" height="9.60" fill="#161616"/>
<line x1="320.20" y1="484.40" x2="320.20" y2="494.00" stroke="#666" stroke-width="0.7"/>
<line x1="321.60" y1="484.40" x2="321.60" y2="494.00" stroke="#111" stroke-width="0.8"/>
<rect x="323.80" y="484.40" width="4.40" height="9.60" fill="#161616"/>
<rect x="328.20" y="484.40" width="3.40" height="9.60" fill="#4a4a4a"/>
<rect x="332.20" y="484.40" width="1.70" height="9.60" fill="#161616"/>
<rect x="334.40" y="484.40" width="1.60" height="9.60" fill="#4a4a4a"/>
<rect x="336.00" y="484.40" width="12.70" height="9.60" fill="#161616"/>
<polyline points="188.20,489.30 193.40,492.80 198.60,495.70 200.30,497.10 201.70,497.50 202.40,496.20 203.40,495.70 204.60,496.80 207.20,497.50 217.60,504.00 231.50,513.60 245.30,522.20 259.20,532.60 273.00,543.00 285.00,550.60 290.00,554.40 296.00,558.30 302.50,561.50 308.00,564.60 312.50,566.80 316.00,567.60 320.00,567.00 324.00,567.40 328.00,565.80 331.00,563.20 334.50,560.50 337.50,555.00 339.50,550.50 341.30,545.00 342.70,538.50 343.80,532.50 344.80,525.50 345.60,519.50 346.50,512.00 347.20,505.00 347.80,498.00 348.30,492.50 348.70,489.30" fill="none" stroke="#000" stroke-width="1.35" stroke-linejoin="round"/>
<text x="184.70" y="562.50" font-size="8.4" fill="#333" color="#333" textLength="101.50" lengthAdjust="spacingAndGlyphs">NES = −2.94; padj &lt; 0.0001</text>
<rect x="180.70" y="477.60" width="176.40" height="95.30" fill="none" stroke="#1a1a1a" stroke-width="1.25"/>
<text x="372.3" y="525.0" font-size="8.1" fill="#333" color="#333" style="stroke-width:0.05px" text-anchor="middle" transform="rotate(90 372.3 525.0)" textLength="91.4" lengthAdjust="spacingAndGlyphs">HALLMARK ALLOGRAFT</text>
<text x="362.7" y="525.7" font-size="8.1" fill="#333" color="#333" style="stroke-width:0.05px" text-anchor="middle" transform="rotate(90 362.7 525.7)" textLength="43.5" lengthAdjust="spacingAndGlyphs">REJECTION</text>
<rect x="359.40" y="582.50" width="21.30" height="94.50" fill="#c7c5cb" stroke="#222" stroke-width="1.2"/>
<line x1="181.00" y1="586.50" x2="357.50" y2="586.50" stroke="#222" stroke-width="0.7" stroke-dasharray="2.6,2.0"/>
<line x1="177.80" y1="664.50" x2="357.30" y2="664.50" stroke="#1a1a1a" stroke-width="1.0"/>
<line x1="177.80" y1="595.50" x2="181.00" y2="595.50" stroke="#222" stroke-width="0.9"/>
<text x="174.40" y="598.50" font-size="8.5" fill="#333" color="#333" text-anchor="end">0.4</text>
<line x1="177.80" y1="612.60" x2="181.00" y2="612.60" stroke="#222" stroke-width="0.9"/>
<text x="174.40" y="615.60" font-size="8.5" fill="#333" color="#333" text-anchor="end">0.3</text>
<line x1="177.80" y1="629.70" x2="181.00" y2="629.70" stroke="#222" stroke-width="0.9"/>
<text x="174.40" y="632.70" font-size="8.5" fill="#333" color="#333" text-anchor="end">0.2</text>
<line x1="177.80" y1="646.90" x2="181.00" y2="646.90" stroke="#222" stroke-width="0.9"/>
<text x="174.40" y="649.90" font-size="8.5" fill="#333" color="#333" text-anchor="end">0.1</text>
<line x1="177.80" y1="664.50" x2="181.00" y2="664.50" stroke="#222" stroke-width="0.9"/>
<text x="174.40" y="667.50" font-size="8.5" fill="#333" color="#333" text-anchor="end">0.0</text>
<text x="155.90" y="627.90" font-size="10.8" fill="#333" color="#333" text-anchor="middle" textLength="71.80" lengthAdjust="spacingAndGlyphs" transform="rotate(-90 155.90 627.90)">Enrichment score</text>
<line x1="188.40" y1="677.00" x2="188.40" y2="679.80" stroke="#222" stroke-width="0.9"/>
<text x="188.40" y="692.20" font-size="8.5" fill="#333" color="#333" text-anchor="middle">0</text>
<line x1="234.40" y1="677.00" x2="234.40" y2="679.80" stroke="#222" stroke-width="0.9"/>
<text x="234.40" y="692.20" font-size="8.5" fill="#333" color="#333" text-anchor="middle">5000</text>
<line x1="280.40" y1="677.00" x2="280.40" y2="679.80" stroke="#222" stroke-width="0.9"/>
<text x="280.40" y="692.20" font-size="8.5" fill="#333" color="#333" text-anchor="middle">10000</text>
<line x1="326.00" y1="677.00" x2="326.00" y2="679.80" stroke="#222" stroke-width="0.9"/>
<text x="326.00" y="692.20" font-size="8.5" fill="#333" color="#333" text-anchor="middle">15000</text>
<rect x="189.40" y="659.40" width="2.60" height="9.50" fill="#161616"/>
<rect x="193.00" y="659.40" width="3.80" height="9.50" fill="#161616"/>
<rect x="198.40" y="659.40" width="3.60" height="9.50" fill="#161616"/>
<rect x="203.00" y="659.40" width="3.40" height="9.50" fill="#161616"/>
<rect x="208.20" y="659.40" width="1.60" height="9.50" fill="#161616"/>
<rect x="210.80" y="659.40" width="1.20" height="9.50" fill="#161616"/>
<rect x="213.00" y="659.40" width="3.00" height="9.50" fill="#161616"/>
<rect x="217.00" y="659.40" width="1.60" height="9.50" fill="#161616"/>
<rect x="219.60" y="659.40" width="2.20" height="9.50" fill="#161616"/>
<rect x="222.80" y="659.40" width="6.00" height="9.50" fill="#161616"/>
<rect x="230.00" y="659.40" width="3.00" height="9.50" fill="#161616"/>
<rect x="234.00" y="659.40" width="1.80" height="9.50" fill="#161616"/>
<rect x="237.00" y="659.40" width="2.80" height="9.50" fill="#161616"/>
<line x1="192.50" y1="659.40" x2="192.50" y2="668.90" stroke="#666" stroke-width="0.7"/>
<line x1="197.60" y1="659.40" x2="197.60" y2="668.90" stroke="#666" stroke-width="0.7"/>
<line x1="202.50" y1="659.40" x2="202.50" y2="668.90" stroke="#666" stroke-width="0.7"/>
<line x1="207.30" y1="659.40" x2="207.30" y2="668.90" stroke="#666" stroke-width="0.7"/>
<line x1="210.30" y1="659.40" x2="210.30" y2="668.90" stroke="#666" stroke-width="0.7"/>
<line x1="212.50" y1="659.40" x2="212.50" y2="668.90" stroke="#666" stroke-width="0.7"/>
<line x1="216.50" y1="659.40" x2="216.50" y2="668.90" stroke="#666" stroke-width="0.7"/>
<line x1="229.40" y1="659.40" x2="229.40" y2="668.90" stroke="#666" stroke-width="0.7"/>
<line x1="236.40" y1="659.40" x2="236.40" y2="668.90" stroke="#666" stroke-width="0.7"/>
<line x1="242.20" y1="659.40" x2="242.20" y2="668.90" stroke="#666" stroke-width="0.7"/>
<rect x="244.70" y="659.40" width="3.00" height="9.50" fill="#161616"/>
<line x1="249.10" y1="659.40" x2="249.10" y2="668.90" stroke="#666" stroke-width="0.7"/>
<line x1="251.20" y1="659.40" x2="251.20" y2="668.90" stroke="#111" stroke-width="0.8"/>
<rect x="255.30" y="659.40" width="1.90" height="9.50" fill="#161616"/>
<rect x="259.00" y="659.40" width="2.00" height="9.50" fill="#161616"/>
<line x1="262.90" y1="659.40" x2="262.90" y2="668.90" stroke="#666" stroke-width="0.7"/>
<line x1="266.50" y1="659.40" x2="266.50" y2="668.90" stroke="#666" stroke-width="0.7"/>
<rect x="270.60" y="659.40" width="2.50" height="9.50" fill="#161616"/>
<line x1="274.50" y1="659.40" x2="274.50" y2="668.90" stroke="#666" stroke-width="0.7"/>
<rect x="277.50" y="659.40" width="2.50" height="9.50" fill="#161616"/>
<line x1="281.40" y1="659.40" x2="281.40" y2="668.90" stroke="#666" stroke-width="0.7"/>
<line x1="285.10" y1="659.40" x2="285.10" y2="668.90" stroke="#111" stroke-width="0.8"/>
<rect x="287.50" y="659.40" width="2.60" height="9.50" fill="#161616"/>
<line x1="292.00" y1="659.40" x2="292.00" y2="668.90" stroke="#666" stroke-width="0.7"/>
<line x1="292.90" y1="659.40" x2="292.90" y2="668.90" stroke="#666" stroke-width="0.7"/>
<line x1="294.60" y1="659.40" x2="294.60" y2="668.90" stroke="#666" stroke-width="0.7"/>
<line x1="296.30" y1="659.40" x2="296.30" y2="668.90" stroke="#666" stroke-width="0.7"/>
<line x1="300.40" y1="659.40" x2="300.40" y2="668.90" stroke="#111" stroke-width="0.8"/>
<line x1="302.70" y1="659.40" x2="302.70" y2="668.90" stroke="#666" stroke-width="0.7"/>
<line x1="304.40" y1="659.40" x2="304.40" y2="668.90" stroke="#111" stroke-width="0.8"/>
<line x1="306.70" y1="659.40" x2="306.70" y2="668.90" stroke="#111" stroke-width="0.8"/>
<line x1="308.50" y1="659.40" x2="308.50" y2="668.90" stroke="#111" stroke-width="0.8"/>
<line x1="310.20" y1="659.40" x2="310.20" y2="668.90" stroke="#111" stroke-width="0.8"/>
<line x1="312.50" y1="659.40" x2="312.50" y2="668.90" stroke="#666" stroke-width="0.7"/>
<line x1="314.20" y1="659.40" x2="314.20" y2="668.90" stroke="#111" stroke-width="0.8"/>
<line x1="317.10" y1="659.40" x2="317.10" y2="668.90" stroke="#111" stroke-width="0.8"/>
<line x1="319.40" y1="659.40" x2="319.40" y2="668.90" stroke="#666" stroke-width="0.7"/>
<line x1="321.70" y1="659.40" x2="321.70" y2="668.90" stroke="#666" stroke-width="0.7"/>
<line x1="324.60" y1="659.40" x2="324.60" y2="668.90" stroke="#111" stroke-width="0.8"/>
<line x1="329.20" y1="659.40" x2="329.20" y2="668.90" stroke="#111" stroke-width="0.8"/>
<line x1="331.00" y1="659.40" x2="331.00" y2="668.90" stroke="#111" stroke-width="0.8"/>
<line x1="336.20" y1="659.40" x2="336.20" y2="668.90" stroke="#111" stroke-width="0.8"/>
<line x1="338.50" y1="659.40" x2="338.50" y2="668.90" stroke="#111" stroke-width="0.8"/>
<line x1="341.30" y1="659.40" x2="341.30" y2="668.90" stroke="#111" stroke-width="0.8"/>
<line x1="343.10" y1="659.40" x2="343.10" y2="668.90" stroke="#111" stroke-width="0.8"/>
<line x1="345.40" y1="659.40" x2="345.40" y2="668.90" stroke="#666" stroke-width="0.7"/>
<line x1="346.50" y1="659.40" x2="346.50" y2="668.90" stroke="#666" stroke-width="0.7"/>
<polyline points="189.20,664.10 191.50,656.90 193.80,650.80 196.10,643.10 198.40,641.50 200.70,638.50 203.00,632.30 206.10,623.10 208.40,618.50 210.70,612.30 213.00,604.60 216.10,599.20 219.20,595.40 222.20,593.10 224.50,591.50 226.80,588.50 229.20,586.60 232.20,587.40 235.30,586.90 238.40,586.90 241.50,589.20 246.10,591.50 250.70,595.40 255.00,599.40 258.80,602.30 264.60,608.10 270.40,614.80 276.20,621.50 281.90,627.30 287.70,632.10 293.50,636.00 299.20,640.80 305.00,645.60 308.80,648.10 312.70,648.50 316.50,650.00 320.40,651.90 324.20,655.20 328.10,658.10 331.90,660.40 335.80,662.90 337.70,663.80 339.60,661.50 341.50,663.80 343.50,661.50 346.30,663.80 349.20,664.00" fill="none" stroke="#000" stroke-width="1.35" stroke-linejoin="round"/>
<text x="255.00" y="596.30" font-size="8.4" fill="#333" color="#333" textLength="95.20" lengthAdjust="spacingAndGlyphs">NES = 2.21; padj &lt; 0.0001</text>
<rect x="180.50" y="582.50" width="176.80" height="94.50" fill="none" stroke="#1a1a1a" stroke-width="1.25"/>
<text x="372.0" y="628.9" font-size="8.1" fill="#333" color="#333" style="stroke-width:0.05px" text-anchor="middle" transform="rotate(90 372.0 628.9)" textLength="86.7" lengthAdjust="spacingAndGlyphs">HALLMARK OXIDATIVE</text>
<text x="362.6" y="629.6" font-size="8.1" fill="#333" color="#333" style="stroke-width:0.05px" text-anchor="middle" transform="rotate(90 362.6 629.6)" textLength="73.9" lengthAdjust="spacingAndGlyphs">PHOSPHORILATION</text>
<text x="165.90" y="705.60" font-size="9.5" fill="#bd0a28" color="#bd0a28" textLength="45.40" lengthAdjust="spacingAndGlyphs">Tcon+Treg</text>
<text x="260.20" y="706.40" font-size="9.8" fill="#333" color="#333" textLength="18.80" lengthAdjust="spacingAndGlyphs">Rank</text>
<text x="347.50" y="705.80" font-size="9.5" fill="#12498c" color="#12498c" textLength="19.60" lengthAdjust="spacingAndGlyphs">Tcon</text>
</svg>
</body></html>
